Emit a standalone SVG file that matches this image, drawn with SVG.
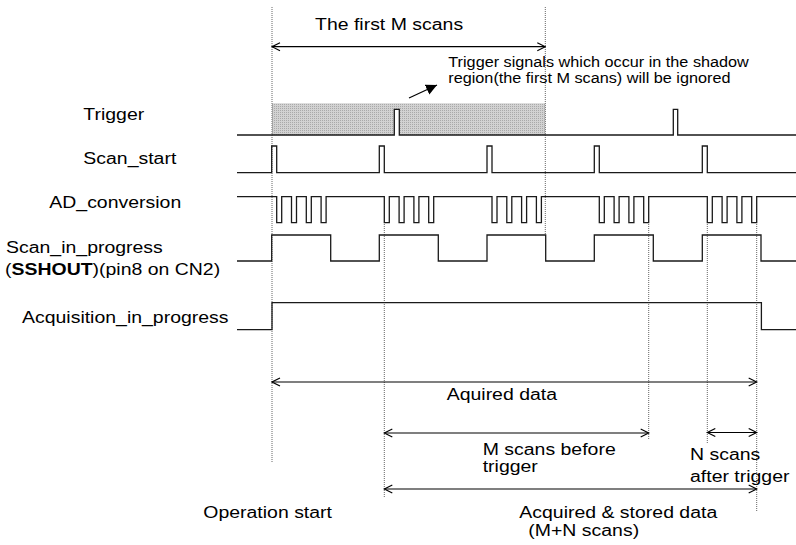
<svg xmlns="http://www.w3.org/2000/svg" width="796" height="545" viewBox="0 0 796 545">
<style>
  .lbl { font-family: "Liberation Sans", Arial, sans-serif; font-size: 17.3px; fill: #000; }
  .note { font-family: "Liberation Sans", Arial, sans-serif; font-size: 14.5px; fill: #000; }
  .b { font-weight: bold; }
  .wave { fill: none; stroke: #1a1a1a; stroke-width: 1.3; }
  .guide { fill: none; stroke: #666; stroke-width: 1; stroke-dasharray: 1 1; }
  .dim { fill: none; stroke: #000; stroke-width: 1.2; marker-start: url(#open); marker-end: url(#open); }
</style>
<defs>
  <marker id="open" viewBox="0 0 10 10" refX="9" refY="5" markerWidth="10" markerHeight="10" markerUnits="userSpaceOnUse" orient="auto-start-reverse">
    <path d="M1,1 L9,5 L1,9" fill="none" stroke="#000" stroke-width="1.2"/>
  </marker>
  <marker id="solid" viewBox="0 0 10 10" refX="10" refY="5" markerWidth="11" markerHeight="11" markerUnits="userSpaceOnUse" orient="auto">
    <path d="M0,0 L10,5 L0,10 z" fill="#000"/>
  </marker>
  <pattern id="shade" width="2" height="2" patternUnits="userSpaceOnUse">
    <rect width="2" height="2" fill="#d2d2d2"/>
    <rect width="1" height="1" fill="#a9a9a9"/>
  </pattern>
</defs>

<g id="shadow-region">
  <rect x="272" y="103.3" width="273.3" height="31.7" fill="url(#shade)"/>
  <rect x="394.3" y="109.3" width="5" height="25.7" fill="#fff"/>
</g>

<g id="guides">
  <line class="guide" x1="272" y1="7" x2="272" y2="462"/>
  <line class="guide" x1="545.3" y1="7" x2="545.3" y2="235"/>
  <line class="guide" x1="384.3" y1="224" x2="384.3" y2="498"/>
  <line class="guide" x1="648.7" y1="224" x2="648.7" y2="440"/>
  <line class="guide" x1="707.3" y1="224" x2="707.3" y2="444"/>
  <line class="guide" x1="756.7" y1="224" x2="756.7" y2="512"/>
</g>

<g id="trigger">
  <text class="lbl" transform="translate(83.3,120) scale(1.125,1)">Trigger</text>
  <path class="wave" d="M237,135 H394.3 V109.3 H399.3 V135 H673.3 V109.3 H677.7 V135 H796"/>
</g>

<g id="scan-start">
  <text class="lbl" transform="translate(83.3,164) scale(1.125,1)">Scan_start</text>
  <path class="wave" d="M237,172.7 H271.7 V146 H276.7 V172.7 H379.3 V146 H384.3 V172.7 H487 V146 H492 V172.7 H594.3 V146 H599.3 V172.7 H702.3 V146 H707.3 V172.7 H796"/>
</g>

<g id="ad-conversion">
  <text class="lbl" transform="translate(49.3,208.3) scale(1.125,1)">AD_conversion</text>
  <path class="wave" d="M237,196.7
    H276.7 V222.7 H281.7 V196.7 H291.5 V222.7 H296.5 V196.7 H306.3 V222.7 H311.3 V196.7 H321.1 V222.7 H326.1 V196.7
    H384.3 V222.7 H389.3 V196.7 H399.1 V222.7 H404.1 V196.7 H413.9 V222.7 H418.9 V196.7 H428.7 V222.7 H433.7 V196.7
    H492 V222.7 H497 V196.7 H506.8 V222.7 H511.8 V196.7 H521.6 V222.7 H526.6 V196.7 H536.4 V222.7 H541.4 V196.7
    H599.3 V222.7 H604.3 V196.7 H614.1 V222.7 H619.1 V196.7 H628.9 V222.7 H633.9 V196.7 H643.7 V222.7 H648.7 V196.7
    H707.3 V222.7 H712.3 V196.7 H722.1 V222.7 H727.1 V196.7 H736.9 V222.7 H741.9 V196.7 H751.7 V222.7 H756.7 V196.7
    H796"/>
</g>

<g id="scan-in-progress">
  <text class="lbl" transform="translate(6,252.5) scale(1.125,1)">Scan_in_progress</text>
  <text class="lbl" transform="translate(5,275) scale(1.125,1)">(<tspan class="b">SSHOUT</tspan>)(pin8 on CN2)</text>
  <path class="wave" d="M237,261 H271.7 V235 H330.7 V261 H379.3 V235 H438.3 V261 H487 V235 H545.7 V261 H594.3 V235 H653.3 V261 H702.3 V235 H761 V261 H796"/>
</g>

<g id="acquisition-in-progress">
  <text class="lbl" transform="translate(22,323) scale(1.125,1)">Acquisition_in_progress</text>
  <path class="wave" d="M237,329.7 H272 V302.6 H761.4 V329.7 H796"/>
</g>

<g id="connectors">
  <line class="dim" x1="272" y1="46.7" x2="545.3" y2="46.7"/>
  <line class="dim" x1="272" y1="382" x2="756.7" y2="382"/>
  <line class="dim" x1="384.3" y1="433" x2="648.7" y2="433"/>
  <line class="dim" x1="707.3" y1="432.5" x2="756.7" y2="432.5"/>
  <line class="dim" x1="384.3" y1="489" x2="756.7" y2="489"/>
  <line x1="409" y1="98" x2="437" y2="85" stroke="#000" stroke-width="1.2" marker-end="url(#solid)"/>
</g>

<g id="labels">
  <text class="lbl" transform="translate(315,30) scale(1.125,1)">The first M scans</text>
  <text class="note" transform="translate(448.3,66.7) scale(1.12,1)">Trigger signals which occur in the shadow</text>
  <text class="note" transform="translate(448.3,83.3) scale(1.12,1)">region(the first M scans) will be ignored</text>
  <text class="lbl" transform="translate(446.7,400) scale(1.125,1)">Aquired data</text>
  <text class="lbl" transform="translate(482.7,455) scale(1.125,1)">M scans before</text>
  <text class="lbl" transform="translate(482.7,471.7) scale(1.125,1)">trigger</text>
  <text class="lbl" transform="translate(690,460) scale(1.125,1)">N scans</text>
  <text class="lbl" transform="translate(690,481.7) scale(1.125,1)">after trigger</text>
  <text class="lbl" transform="translate(203.3,518.3) scale(1.125,1)">Operation start</text>
  <text class="lbl" transform="translate(519.3,518.3) scale(1.125,1)">Acquired &amp; stored data</text>
  <text class="lbl" transform="translate(528.3,535.5) scale(1.125,1)">(M+N scans)</text>
</g>
</svg>
